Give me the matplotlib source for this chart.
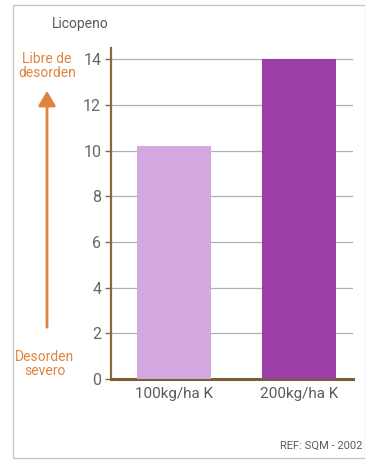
import matplotlib
matplotlib.use("Agg")
import matplotlib.pyplot as plt
from matplotlib.patches import Rectangle, FancyArrowPatch

categories = ["100kg/ha K", "200kg/ha K"]
values = [10.2, 14.0]
yticks = [0, 2, 4, 6, 8, 10, 12, 14]
bar_colors = ["#d3a8e0", "#9c3ea8"]

plt.rcParams['font.family'] = ['Roboto', 'DejaVu Sans']

fig = plt.figure(figsize=(3.65, 4.62), dpi=100)
fig.patch.set_facecolor("white")
ax = fig.add_axes([0.304, 0.1797, 0.663, 0.717])

x = list(range(len(categories)))
ax.bar(x, values, width=0.59, color=bar_colors, zorder=3)
ax.set_xlim(-0.504, 1.432)
ax.set_ylim(0, 14.5)
ax.set_yticks(yticks)
ax.set_yticklabels([str(t) for t in yticks])
ax.set_xticks(x)
ax.set_xticklabels(categories)
ax.yaxis.grid(True, color="#b0b0b0", linewidth=0.9, zorder=0)
ax.set_axisbelow(True)

for s in ["top", "right"]:
    ax.spines[s].set_visible(False)
ax.spines["left"].set_color("#8a6a3c")
ax.spines["left"].set_linewidth(1.6)
ax.spines["bottom"].set_color("#7a5e36")
ax.spines["bottom"].set_linewidth(2.2)
ax.tick_params(axis="y", colors="#8a6a3c", length=4, width=1, labelcolor="#666666", labelsize=11.5, pad=3)
ax.tick_params(axis="x", length=0, labelcolor="#5a5a5a", labelsize=11, pad=6)

orange = "#e0843f"
fig.text(80/365, 1-24/462, "Licopeno", ha="center", va="center", fontsize=10, color="#5a5a5a")
fig.text(47/365, 1-66/462, "Libre de\ndesorden", ha="center", va="center", fontsize=10, color=orange, linespacing=0.95)
fig.text(45/365, 1-364/462, "Desorden\nsevero", ha="center", va="center", fontsize=10, color=orange, linespacing=0.95)
arrow = FancyArrowPatch((47/365, 1-330/462), (47/365, 1-88/462), transform=fig.transFigure,
                        arrowstyle="-|>,head_length=6,head_width=3.5", color=orange, linewidth=2, mutation_scale=1.5)
fig.patches.append(arrow)
fig.text(362/365, 1-446/462, "REF: SQM - 2002", ha="right", va="center", fontsize=8, color="#5a5a5a")

border = Rectangle((13/365, 1-458/462), 352/365, 453/462, transform=fig.transFigure,
                   fill=False, edgecolor="#c8c8c8", linewidth=1)
fig.patches.append(border)

fig.savefig("out.png", dpi=100)
